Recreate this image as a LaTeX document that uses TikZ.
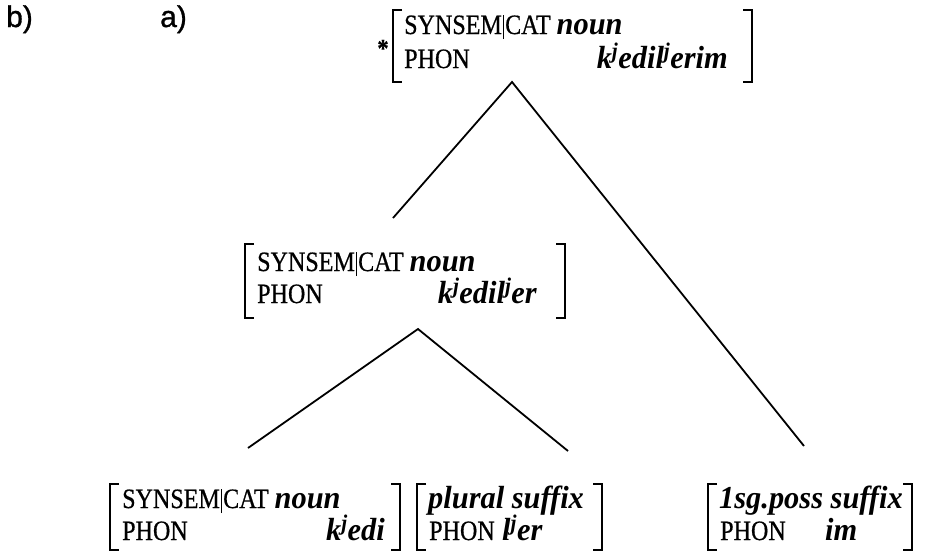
\documentclass[tikz,border=0pt]{standalone}
\usepackage{fontspec}
\setmainfont{Liberation Serif}[FakeStretch=0.86,FakeBold=0.6]
\newfontfamily\avmitfam{Liberation Serif}[FakeStretch=0.95]
\newfontfamily\labfont{Liberation Sans}[FakeBold=1]
\newcommand\avmrm{\fontsize{28pt}{32pt}\selectfont\upshape\mdseries}
\newcommand\avmit{\avmitfam\fontsize{32pt}{36pt}\selectfont\bfseries\itshape}
\newcommand\pal{\textsuperscript{j}}
\newcommand\synsemcat{SYNSEM\kern1pt\raisebox{-5pt}{\rule{1.3pt}{24pt}}\kern1pt CAT}
\begin{document}
\begin{tikzpicture}[x=1pt,y=-1pt,
  frame/.style={inner sep=0pt, outer sep=0pt},
  lbl/.style={inner sep=0pt, font=\avmrm},
  val/.style={inner sep=0pt, font=\avmit},
  brk/.style={line width=1.8pt},
  branch/.style={line width=1.8pt},
  tag/.style={inner sep=0pt, font=\labfont\fontsize{30pt}{34pt}\selectfont},
]
\useasboundingbox (0,0) rectangle (925,555);
\newcommand\brackets[1]{%
  \draw[brk] ([xshift=9pt]#1.north west) -- (#1.north west) -- (#1.south west) -- ([xshift=9pt]#1.south west);
  \draw[brk] ([xshift=-9pt]#1.north east) -- (#1.north east) -- (#1.south east) -- ([xshift=-9pt]#1.south east);}

\node[tag, anchor=base west] (lb) at (6,27) {b)};
\node[tag, anchor=base west] (la) at (160,27) {a)};

% top AVM
\node[frame, minimum width=359pt, minimum height=72pt] (T) at (572.5,46) {};
\brackets{T}
\node[inner sep=0pt, font=\fontsize{26pt}{28pt}\selectfont\bfseries, anchor=base] (ast) at (383,57) {*};
\node[lbl, anchor=base west] (Tc) at ([xshift=11pt,yshift=-24pt]T.north west) {\synsemcat\ {\avmit noun}};
\node[lbl, anchor=base west] (Tp) at ([xshift=11pt,yshift=-58pt]T.north west) {PHON};
\node[val, anchor=base east] (Tv) at ([xshift=-24pt,yshift=-58pt]T.north east) {k\pal edil\pal erim};

% middle AVM
\node[frame, minimum width=320pt, minimum height=74pt] (M) at (405,281) {};
\brackets{M}
\node[lbl, anchor=base west] (Mc) at ([xshift=12pt,yshift=-27pt]M.north west) {\synsemcat\ {\avmit noun}};
\node[lbl, anchor=base west] (Mp) at ([xshift=12pt,yshift=-59pt]M.north west) {PHON};
\node[val, anchor=base east] (Mv) at ([xshift=-28pt,yshift=-59pt]M.north east) {k\pal edil\pal er};

% bottom AVMs
\node[frame, minimum width=290pt, minimum height=66pt] (B1) at (255,517) {};
\brackets{B1}
\node[lbl, anchor=base west] (B1c) at ([xshift=12pt,yshift=-24pt]B1.north west) {\synsemcat\ {\avmit noun}};
\node[lbl, anchor=base west] (B1p) at ([xshift=12pt,yshift=-56pt]B1.north west) {PHON};
\node[val, anchor=base east] (B1v) at ([xshift=-15pt,yshift=-56pt]B1.north east) {k\pal edi};

\node[frame, minimum width=185pt, minimum height=66pt] (B2) at (509.5,517) {};
\brackets{B2}
\node[val, anchor=base west] (B2c) at ([xshift=11pt,yshift=-24pt]B2.north west) {plural suffix};
\node[lbl, anchor=base west] (B2p) at ([xshift=12pt,yshift=-56pt]B2.north west) {PHON};
\node[val, anchor=base west] (B2v) at ([xshift=85pt,yshift=-56pt]B2.north west) {l\pal er};

\node[frame, minimum width=204pt, minimum height=66pt] (B3) at (810,517) {};
\brackets{B3}
\node[val, anchor=base west] (B3c) at ([xshift=11pt,yshift=-24pt]B3.north west) {1sg.poss suffix};
\node[lbl, anchor=base west] (B3p) at ([xshift=12pt,yshift=-56pt]B3.north west) {PHON};
\node[val, anchor=base west] (B3v) at ([xshift=117pt,yshift=-56pt]B3.north west) {im};

% branches
\coordinate (Tapex) at (512,82);
\coordinate (TL) at (393,218);
\coordinate (TR) at (804,446);
\coordinate (Mapex) at (418,329);
\coordinate (ML) at (248,448);
\coordinate (MR) at (568,451);
\draw[branch] (TL) -- (Tapex) -- (TR);
\draw[branch] (ML) -- (Mapex) -- (MR);
\end{tikzpicture}
\end{document}
